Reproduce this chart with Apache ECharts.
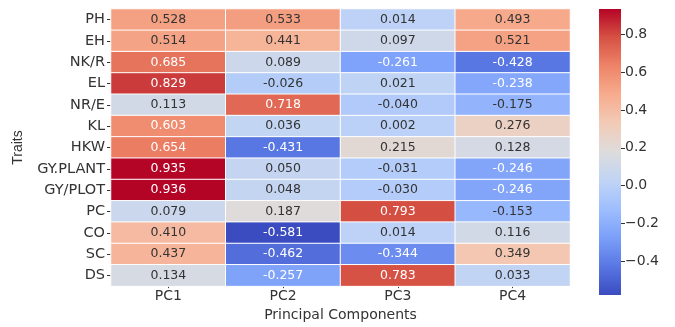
<!DOCTYPE html>
<html>
<head>
<meta charset="utf-8">
<script src="https://cdn.jsdelivr.net/npm/echarts@6/dist/echarts.min.js"></script>
<style>html,body{margin:0;padding:0;background:#fff}#c{width:675px;height:327px}</style>
</head>
<body>
<div id="c"></div>
<script>
const traits = ['PH','EH','NK/R','EL','NR/E','KL','HKW','GY.PLANT','GY/PLOT','PC','CO','SC','DS'];
const components = ['PC1','PC2','PC3','PC4'];
const pc1 = [0.528,0.514,0.685,0.829,0.113,0.603,0.654,0.935,0.936,0.079,0.410,0.437,0.134];
const pc2 = [0.533,0.441,0.089,-0.026,0.718,0.036,-0.431,0.050,0.048,0.187,-0.581,-0.462,-0.257];
const pc3 = [0.014,0.097,-0.261,0.021,-0.040,0.002,0.215,-0.031,-0.030,0.793,0.014,-0.344,0.783];
const pc4 = [0.493,0.521,-0.428,-0.238,-0.175,0.276,0.128,-0.246,-0.246,-0.153,0.116,0.349,0.033];
const colorbarTicks = [-0.4,-0.2,0.0,0.2,0.4,0.6,0.8];
const vMin = -0.581, vMax = 0.936;

const coolwarm = ['#3b4cc0','#5977e3','#7b9ff9','#9ebeff','#c0d4f5','#dddcdc','#f2cbb7','#f7ac8e','#ee8468','#d65244','#b40426'];

const cols = [pc1, pc2, pc3, pc4];
const data = [];
cols.forEach((col, ci) => {
  col.forEach((v, ri) => {
    const light = (v > 0.56 || v < -0.2);
    data.push({value: [ci, ri, v], label: {color: light ? '#ffffff' : '#333333'}});
  });
});

const font = 'DejaVu Sans';
const chart = echarts.init(document.getElementById('c'));
chart.setOption({
  animation: false,
  backgroundColor: '#ffffff',
  grid: [
    {left: 111, top: 9, width: 459, height: 286},
    {left: 599, top: 9, width: 22, height: 286}
  ],
  xAxis: [
    {
      type: 'category', data: components, gridIndex: 0, position: 'bottom',
      axisLine: {show: false},
      axisTick: {show: true, length: 2, alignWithLabel: true, lineStyle: {color: '#333'}},
      axisLabel: {fontFamily: font, fontSize: 14, color: '#333', margin: 3},
      name: 'Principal Components', nameLocation: 'middle', nameGap: 17,
      nameTextStyle: {fontFamily: font, fontSize: 14, color: '#333'}
    },
    {
      type: 'category', data: [''], gridIndex: 1,
      axisLine: {show: false}, axisTick: {show: false}, axisLabel: {show: false}
    }
  ],
  yAxis: [
    {
      type: 'category', data: traits, gridIndex: 0, inverse: true,
      axisLine: {show: false},
      axisTick: {show: true, length: 4, alignWithLabel: true, lineStyle: {color: '#333'}},
      axisLabel: {fontFamily: font, fontSize: 14.5, color: '#333', margin: 6},
      name: 'Traits', nameLocation: 'middle', nameGap: 86, nameRotate: 90,
      nameTextStyle: {fontFamily: 'Liberation Sans', fontSize: 14, color: '#333'}
    },
    {
      type: 'value', gridIndex: 1, min: vMin, max: vMax, position: 'right',
      splitLine: {show: false},
      axisLine: {show: false},
      axisTick: {show: true, length: 4, customValues: colorbarTicks, lineStyle: {color: '#333'}},
      axisLabel: {
        fontFamily: font, fontSize: 14, color: '#333', margin: 4,
        customValues: colorbarTicks,
        formatter: v => (v < 0 ? '\u2212' : '') + Math.abs(v).toFixed(1)
      }
    }
  ],
  visualMap: {
    show: false, type: 'continuous', min: vMin, max: vMax, dimension: 2,
    seriesIndex: 0, inRange: {color: coolwarm}
  },
  series: [
    {
      type: 'heatmap', xAxisIndex: 0, yAxisIndex: 0, data: data,
      itemStyle: {borderColor: '#ffffff', borderWidth: 1},
      label: {show: true, fontFamily: font, fontSize: 12.5, formatter: p => p.value[2].toFixed(3)},
      emphasis: {disabled: true}
    },
    {
      type: 'custom', xAxisIndex: 1, yAxisIndex: 1,
      data: [[0, vMin, vMax]],
      renderItem: function (params, api) {
        const top = api.coord([api.value(0), api.value(2)]);
        const bot = api.coord([api.value(0), api.value(1)]);
        const w = api.size([1, 0])[0];
        const stops = coolwarm.map((c, i) => ({offset: i / (coolwarm.length - 1), color: c}));
        return {
          type: 'rect',
          shape: {x: top[0] - w / 2, y: top[1], width: w, height: bot[1] - top[1]},
          style: {fill: {type: 'linear', x: 0, y: 1, x2: 0, y2: 0, colorStops: stops}}
        };
      }
    }
  ]
});
</script>
</body>
</html>
